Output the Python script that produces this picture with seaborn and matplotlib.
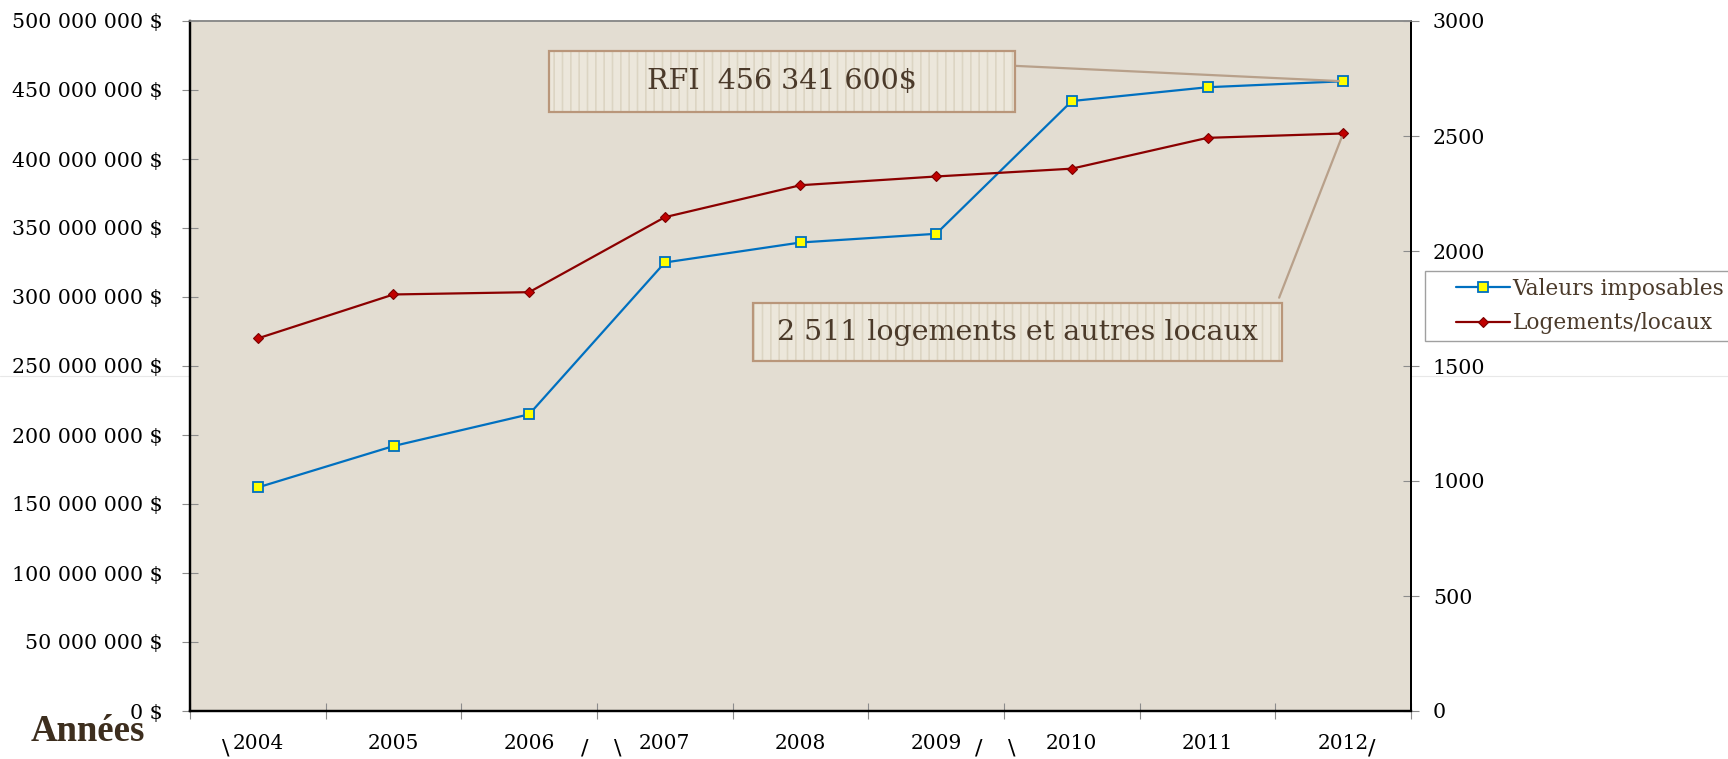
import numpy as np
import matplotlib
matplotlib.use("Agg")
import matplotlib.pyplot as plt
from matplotlib.ticker import FixedLocator, FuncFormatter, MultipleLocator
from matplotlib.patches import Rectangle
from matplotlib.lines import Line2D
from matplotlib.legend_handler import HandlerLine2D
import seaborn as sns

# ---- data ----
annees = ["2004", "2005", "2006", "2007", "2008", "2009", "2010", "2011", "2012"]
valeurs_imposables = [162_000_000, 192_000_000, 215_000_000, 325_000_000, 339_500_000,
                      345_800_000, 442_000_000, 452_000_000, 456_341_600]
logements_locaux = [1620, 1811, 1821, 2147, 2286, 2324, 2358, 2492, 2511]
label_valeurs = "Valeurs imposables"
label_logements = "Logements/locaux"
texte_rfi = "RFI  456 341 600$"
texte_logements = "2 511 logements et autres locaux"

sns.set_theme(style="white")
plt.rcParams["font.family"] = ["DejaVu Serif"]
plt.rcParams["hatch.linewidth"] = 1.2

BLUE = "#0070C0"
RED = "#8B0000"
BG = "#E3DDD2"
BROWN = "#4B3A2A"
TAN = "#B9967A"

fig = plt.figure(figsize=(17.28, 7.59), dpi=100)
ax = fig.add_axes([190 / 1728, 48 / 759, 1221 / 1728, 690 / 759])
ax.set_facecolor(BG)
ax2 = ax.twinx()

sns.lineplot(x=annees, y=valeurs_imposables, ax=ax, color=BLUE, linewidth=1.6,
             marker="s", markersize=6.5, markerfacecolor="#FFFF00",
             markeredgecolor=BLUE, markeredgewidth=1.3, legend=False, sort=False)
sns.lineplot(x=annees, y=logements_locaux, ax=ax2, color=RED, linewidth=1.6,
             marker="D", markersize=5.5, markerfacecolor="#C00000",
             markeredgecolor="#7A0000", markeredgewidth=0.8, legend=False, sort=False)

ax.set_xlim(-0.5, 8.5)
ax.set_ylim(0, 500_000_000)
ax2.set_ylim(0, 3000)
ax.yaxis.set_major_locator(MultipleLocator(50_000_000))
ax2.yaxis.set_major_locator(MultipleLocator(500))
ax.yaxis.set_major_formatter(FuncFormatter(lambda v, p: f"{v:,.0f}".replace(",", " ") + " $"))
ax2.yaxis.set_major_formatter(FuncFormatter(lambda v, p: f"{v:.0f}"))

ax.set_xlabel("")
ax.set_ylabel("")
ax2.set_ylabel("")

# x ticks: labels at centers, tick marks at category boundaries
ax.xaxis.set_minor_locator(FixedLocator(np.arange(-0.5, 9.0, 1.0)))
ax.tick_params(axis="x", which="major", length=0, pad=16.5, labelsize=14.5, labelcolor="black")
ax.tick_params(axis="x", which="minor", direction="inout", length=11.5, width=0.8,
               color="#8C8C8C", bottom=True)
ax.tick_params(axis="y", which="major", direction="inout", length=11.5, width=0.8,
               color="#8C8C8C", pad=14, labelsize=14.8, labelcolor="black", left=True)
ax2.tick_params(axis="y", which="major", direction="inout", length=11.5, width=0.8,
                color="#8C8C8C", pad=10, labelsize=14.8, labelcolor="black", right=True)

for a in (ax, ax2):
    a.spines["left"].set_color("black")
    a.spines["left"].set_linewidth(1.6)
    a.spines["bottom"].set_color("black")
    a.spines["bottom"].set_linewidth(1.6)
    a.spines["right"].set_color("black")
    a.spines["right"].set_linewidth(1.4)
    a.spines["top"].set_color("#8C8C8C")
    a.spines["top"].set_linewidth(1.2)
    for s in a.spines.values():
        s.set_visible(True)

# annotation boxes
def boite(axis, x0, y0, w, h, texte):
    axis.add_patch(Rectangle((x0, y0), w, h, transform=axis.transAxes, facecolor="#ECE7DB",
                             edgecolor="#DCD5C3", linewidth=0, hatch="||", zorder=5))
    axis.add_patch(Rectangle((x0, y0), w, h, transform=axis.transAxes, facecolor="none",
                             edgecolor=TAN, linewidth=1.6, zorder=6))
    axis.text(x0 + w / 2, y0 + h / 2, texte, transform=axis.transAxes, ha="center",
              va="center", fontsize=20.5, color=BROWN, zorder=7)

boite(ax2, 0.294, 0.868, 0.3817, 0.0884, texte_rfi)
boite(ax2, 0.461, 0.507, 0.433, 0.084, texte_logements)

# leader lines
ax.annotate("", xy=(8, valeurs_imposables[-1]), xycoords="data",
            xytext=(0.6757, 0.935), textcoords="axes fraction",
            arrowprops=dict(arrowstyle="-", color="#B8A08A", lw=1.6,
                            shrinkA=0, shrinkB=3), zorder=4)
ax2.annotate("", xy=(8, logements_locaux[-1]), xycoords="data",
             xytext=(0.892, 0.599), textcoords="axes fraction",
             arrowprops=dict(arrowstyle="-", color="#B8A08A", lw=1.6,
                             shrinkA=0, shrinkB=3), zorder=4)

# legend
handles = [ax.lines[0], ax2.lines[0]]
hm = {h: HandlerLine2D(xpad=1.15) for h in handles}
leg = fig.legend(handles, [label_valeurs, label_logements], loc="upper left",
                 bbox_to_anchor=(1425 / 1728, 1 - 271 / 759), frameon=True,
                 fancybox=False, edgecolor="#A0A0A0", framealpha=1, fontsize=15.6,
                 labelcolor=BROWN, handlelength=3.6, handletextpad=0.15,
                 borderpad=0.3, labelspacing=0.6, borderaxespad=0, handler_map=hm)
leg.get_frame().set_linewidth(1.0)

# "Années" label
fig.text(31 / 1728, 1 - 741 / 759, "Années", fontsize=26.5, fontweight="bold",
         family="Liberation Serif", color="#3D2E1E", va="baseline", ha="left")

# bracket marks at bottom
for xp, ch in [(226, "\\"), (585, "/"), (618, "\\"), (979, "/"), (1012, "\\"), (1372, "/")]:
    fig.text(xp / 1728, 1 - 748 / 759, ch, fontsize=16, color="black",
             ha="center", va="center", family="DejaVu Sans")

# faint horizontal line across the figure
fig.add_artist(Line2D([0, 1], [1 - 376 / 759, 1 - 376 / 759], transform=fig.transFigure,
                      color="#E8E8E8", lw=0.8, zorder=-1))

fig.savefig("out.png", dpi=100)
